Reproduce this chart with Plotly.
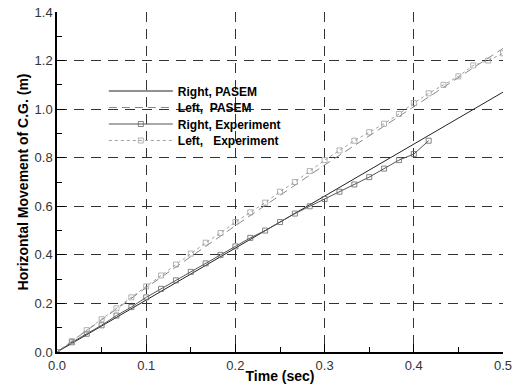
import plotly.graph_objects as go

# ---- data ----
pasem_t = [0.0, 0.1, 0.2, 0.3, 0.4, 0.5]
right_pasem = [0.0, 0.214, 0.428, 0.642, 0.856, 1.07]
left_pasem = [0.0, 0.265, 0.52, 0.77, 1.01, 1.25]

right_exp_t = [k / 60 for k in range(26)]
right_exp = [0.0, 0.04, 0.075, 0.11, 0.15, 0.185, 0.225, 0.26, 0.295, 0.33,
             0.365, 0.40, 0.435, 0.47, 0.50, 0.535, 0.57, 0.60, 0.63, 0.66,
             0.69, 0.72, 0.755, 0.79, 0.815, 0.87]

left_exp_t = [k / 60 for k in range(31)]
left_exp = [0.0, 0.045, 0.09, 0.135, 0.18, 0.225, 0.27, 0.315, 0.36, 0.405,
            0.45, 0.49, 0.535, 0.575, 0.615, 0.66, 0.70, 0.745, 0.79, 0.83,
            0.87, 0.905, 0.94, 0.98, 1.025, 1.065, 1.10, 1.135, 1.18, 1.20, 1.23]

x_ticks = [0.0, 0.1, 0.2, 0.3, 0.4, 0.5]
y_ticks = [0.0, 0.2, 0.4, 0.6, 0.8, 1.0, 1.2, 1.4]

fig = go.Figure()
fig.add_trace(go.Scatter(x=pasem_t, y=right_pasem, mode="lines", name="<b>Right, PASEM</b>",
                         line=dict(color="#222222", width=1), legend="legend"))
fig.add_trace(go.Scatter(x=pasem_t, y=left_pasem, mode="lines", name="<b>Left,  PASEM</b>",
                         line=dict(color="#888888", width=1, dash="8px,5px"), legend="legend2"))
fig.add_trace(go.Scatter(x=right_exp_t, y=right_exp, mode="lines+markers", name="<b>Right, Experiment</b>",
                         line=dict(color="#555555", width=1),
                         marker=dict(symbol="square-open", size=5, color="#666666", line=dict(width=0.8)),
                         legend="legend3"))
fig.add_trace(go.Scatter(x=left_exp_t, y=left_exp, mode="lines+markers", name="<b>Left,   Experiment</b>",
                         line=dict(color="#a0a0a0", width=1, dash="3px,3px"),
                         marker=dict(symbol="square-open", size=5, color="#a0a0a0", line=dict(width=0.8)),
                         legend="legend4"))

axis_common = dict(
    showline=True, linecolor="black", mirror=False, automargin=False,
    ticks="inside", ticklen=8, tickcolor="black", tickwidth=1,
    showgrid=True, gridcolor="#333333", gridwidth=1, griddash="10px,7px",
    zeroline=False,
    tickfont=dict(family="Arial, Liberation Sans", size=13, color="#333333"),
)

fig.update_xaxes(range=[0, 0.5], tickvals=x_ticks, ticktext=[f"{v:.1f}" for v in x_ticks],
                 linewidth=2,
                 minor=dict(ticks="inside", ticklen=5, tickcolor="black", dtick=0.05, showgrid=False),
                 title=dict(text="<b>Time (sec)</b>", standoff=0,
                            font=dict(family="Arial, Liberation Sans", size=14, color="black")),
                 **axis_common)
fig.update_yaxes(range=[0, 1.4], tickvals=y_ticks, ticktext=[f"{v:.1f}" for v in y_ticks],
                 linewidth=1.5,
                 minor=dict(ticks="inside", ticklen=5, tickcolor="black", dtick=0.1, showgrid=False),
                 title=dict(text="<b>Horizontal Movement of C.G. (m)</b>", standoff=3,
                            font=dict(family="Arial, Liberation Sans", size=14, color="black")),
                 **axis_common)

plot_top, plot_bottom = 12, 352
row_px = [91, 107.5, 124, 140.5]


def legend_box(ypx):
    return dict(x=0.105, y=(plot_bottom - ypx) / (plot_bottom - plot_top),
                xanchor="left", yanchor="middle",
                bgcolor="rgba(0,0,0,0)", borderwidth=0, itemwidth=64,
                font=dict(family="Arial, Liberation Sans", size=12, color="black"))


fig.update_layout(
    width=521, height=386,
    margin=dict(l=57, r=18, t=12, b=34),
    plot_bgcolor="white", paper_bgcolor="white",
    showlegend=True,
    legend=legend_box(row_px[0]),
    legend2=legend_box(row_px[1]),
    legend3=legend_box(row_px[2]),
    legend4=legend_box(row_px[3]),
)

fig.write_html("out.html", config={"displayModeBar": False},
               post_script="document.body.style.margin='0';document.body.style.overflow='hidden';")
